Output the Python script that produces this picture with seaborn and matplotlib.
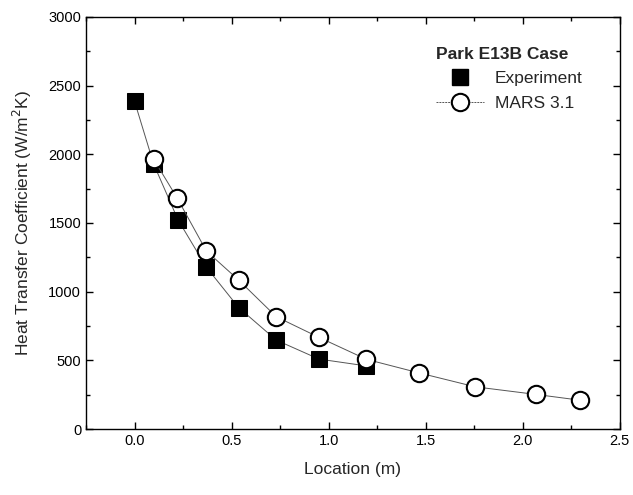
import matplotlib
matplotlib.use("Agg")
import matplotlib.pyplot as plt
import seaborn as sns
import pandas as pd
from matplotlib.lines import Line2D
from matplotlib.ticker import MultipleLocator

exp_x = [0.0, 0.098, 0.223, 0.37, 0.536, 0.73, 0.95, 1.195]
exp_y = [2384, 1930, 1525, 1178, 885, 648, 510, 460]
mars_x = [0.098, 0.218, 0.37, 0.536, 0.73, 0.95, 1.195, 1.464, 1.756, 2.067, 2.294]
mars_y = [1964, 1685, 1296, 1085, 818, 668, 508, 410, 308, 253, 211]

sns.set_style("ticks")
plt.rcParams['font.family'] = ['Liberation Sans', 'DejaVu Sans']

fig = plt.figure(figsize=(6.33, 4.95), dpi=100)
ax = fig.add_axes([0.136, 0.133, 0.843, 0.833])

exp_df = pd.DataFrame({"x": exp_x, "y": exp_y})
mars_df = pd.DataFrame({"x": mars_x, "y": mars_y})

sns.lineplot(data=exp_df, x="x", y="y", ax=ax, color="#555555", lw=0.7,
             marker="s", markersize=11, markerfacecolor="black",
             markeredgecolor="black", sort=False, zorder=2)
sns.lineplot(data=mars_df, x="x", y="y", ax=ax, color="#555555", lw=0.7,
             marker="o", markersize=12.5, markerfacecolor="white",
             markeredgecolor="black", markeredgewidth=1.5, sort=False, zorder=3)

ax.set_xlim(-0.25, 2.5)
ax.set_ylim(0, 3000)
ax.xaxis.set_major_locator(MultipleLocator(0.5))
ax.xaxis.set_minor_locator(MultipleLocator(0.25))
ax.yaxis.set_major_locator(MultipleLocator(500))
ax.yaxis.set_minor_locator(MultipleLocator(250))
ax.xaxis.set_major_formatter(matplotlib.ticker.FormatStrFormatter('%.1f'))
ax.tick_params(which='both', direction='in', top=True, right=True, colors='black')
ax.tick_params(which='major', length=5, width=1, labelsize=10.5)
ax.tick_params(which='minor', length=3, width=1)
for s in ax.spines.values():
    s.set_linewidth(1.0)
    s.set_color('black')

ax.set_xlabel("Location (m)", fontsize=12.5, labelpad=10)
ax.set_ylabel("Heat Transfer Coefficient (W/m$^2$K)", fontsize=12.5, labelpad=10)

handles = [
    Line2D([], [], linestyle='none', marker='s', markersize=11,
           markerfacecolor='black', markeredgecolor='black'),
    Line2D([], [], color="#555555", lw=0.7, linestyle=(0, (2, 1)), marker='o', markersize=12.5,
           markerfacecolor='white', markeredgecolor='black', markeredgewidth=1.5),
]
leg = ax.legend(handles, ["Experiment", "MARS 3.1"], title="Park E13B Case",
                loc='upper left', bbox_to_anchor=(0.655, 0.928), frameon=False,
                borderpad=0, borderaxespad=0,
                fontsize=12.5, title_fontproperties={'weight': 'bold', 'size': 12.5},
                handlelength=2.8, handletextpad=0.6, labelspacing=0.55)
leg._legend_box.align = "left"
leg._legend_box.sep = 7

fig.savefig("out.png", dpi=100)
